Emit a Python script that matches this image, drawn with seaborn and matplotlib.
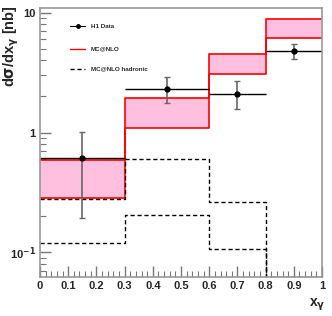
import numpy as np
import pandas as pd
import seaborn as sns
import matplotlib.pyplot as plt
from matplotlib.ticker import MultipleLocator, FixedLocator, NullFormatter

# bin edges in x_gamma
edges = [0.0, 0.3, 0.6, 0.8, 1.0]
centres = [0.15, 0.45, 0.7, 0.9]

# H1 data with errors
h1 = [0.607, 2.33, 2.11, 4.8]
h1_up = [1.01, 2.9, 2.69, 5.5]
h1_dn = [0.194, 1.75, 1.56, 4.08]

# MC@NLO band (upper / lower)
nlo_hi = [0.585, 1.95, 4.52, 8.9]
nlo_lo = [0.282, 1.09, 3.06, 6.2]

# MC@NLO hadronic (upper / lower)
had_hi = [0.28, 0.596, 0.261, 0.062]
had_lo = [0.119, 0.205, 0.107, 0.062]

xticks = [0.0, 0.1, 0.2, 0.3, 0.4, 0.5, 0.6, 0.7, 0.8, 0.9, 1.0]
xticklabels = ['0', '0.1', '0.2', '0.3', '0.4', '0.5', '0.6', '0.7', '0.8', '0.9', '1']

sns.set_theme(style='ticks')
plt.rcParams['font.family'] = ['Liberation Sans', 'DejaVu Sans']
plt.rcParams['font.weight'] = 'bold'
plt.rcParams['mathtext.default'] = 'bf'

fig = plt.figure(figsize=(3.32, 3.16), dpi=100)
ax = fig.add_axes([0.1205, 0.1234, 0.8495, 0.8516])

def steps(vals):
    return pd.DataFrame({'x': edges, 'y': list(vals) + [vals[-1]]})

# pink band
ax.fill_between(edges, list(nlo_lo) + [nlo_lo[-1]], list(nlo_hi) + [nlo_hi[-1]],
                step='post', color='#ffbfdf', lw=0)
sns.lineplot(data=steps(nlo_hi), x='x', y='y', drawstyle='steps-post', color='red', lw=1.2, ax=ax)
sns.lineplot(data=steps(nlo_lo), x='x', y='y', drawstyle='steps-post', color='red', lw=1.2, ax=ax)
sns.lineplot(data=steps(had_hi), x='x', y='y', drawstyle='steps-post', color='black', lw=1,
             ls=(0, (3, 2)), ax=ax)
sns.lineplot(data=steps(had_lo), x='x', y='y', drawstyle='steps-post', color='black', lw=1,
             ls=(0, (3, 2)), ax=ax)

# data points
xerr = np.array([[c - e for c, e in zip(centres, edges[:-1])],
                 [e - c for c, e in zip(centres, edges[1:])]])
yerr = np.array([np.array(h1) - np.array(h1_dn), np.array(h1_up) - np.array(h1)])
ax.errorbar(centres, h1, xerr=xerr, fmt='none', ecolor='black', elinewidth=1, capsize=0)
ax.errorbar(centres, h1, yerr=yerr, fmt='none', ecolor='#666666', elinewidth=1.2, capsize=2)
ax.plot(centres, h1, 'o', color='black', ms=3.5)

ax.set_yscale('log')
ax.set_xlim(0, 1)
ax.set_ylim(0.062, 11)
ax.set_xlabel('')
ax.set_ylabel('')

ax.xaxis.set_major_locator(FixedLocator(xticks))
ax.set_xticklabels(xticklabels)
ax.xaxis.set_minor_locator(MultipleLocator(0.02))
ax.yaxis.set_major_locator(FixedLocator([0.1, 1, 10]))
ax.yaxis.set_minor_locator(FixedLocator([k * 10.0 ** p for p in (-2, -1, 0, 1) for k in range(2, 10)]))
ax.yaxis.set_minor_formatter(NullFormatter())
ax.set_yticklabels(['10$^{-1}$', '1', '10'])
ax.tick_params(axis='both', which='major', direction='in', length=8, width=1, color='#777777',
               labelsize=8, pad=3)
ax.tick_params(axis='both', which='minor', direction='in', length=4, width=0.8, color='#777777')
for s in ax.spines.values():
    s.set_color('#999999')
    s.set_linewidth(1.2)

fig.text(0.035, 0.985, r'd$\sigma$/dx$_{\gamma}$ [nb]', rotation=90, ha='center', va='top',
         fontsize=10.5, fontweight='bold')
fig.text(0.955, 0.035, r'x$_{\gamma}$', ha='center', va='center', fontsize=10, fontweight='bold')

# legend
ax.plot([0.106, 0.16], [7.7, 7.7], color='black', lw=0.8)
ax.plot([0.133], [7.7], 'o', color='black', ms=2.5)
ax.plot([0.106, 0.16], [5.0, 5.0], color='red', lw=1)
ax.plot([0.106, 0.16], [3.4, 3.4], color='black', lw=1, ls=(0, (3, 2)))
ax.text(0.18, 7.7, 'H1 Data', fontsize=4.5, va='center', fontweight='bold')
ax.text(0.18, 5.0, 'MC@NLO', fontsize=4.5, va='center', fontweight='bold')
ax.text(0.18, 3.4, 'MC@NLO hadronic', fontsize=4.5, va='center', fontweight='bold')

plt.savefig('out.png', dpi=100)
